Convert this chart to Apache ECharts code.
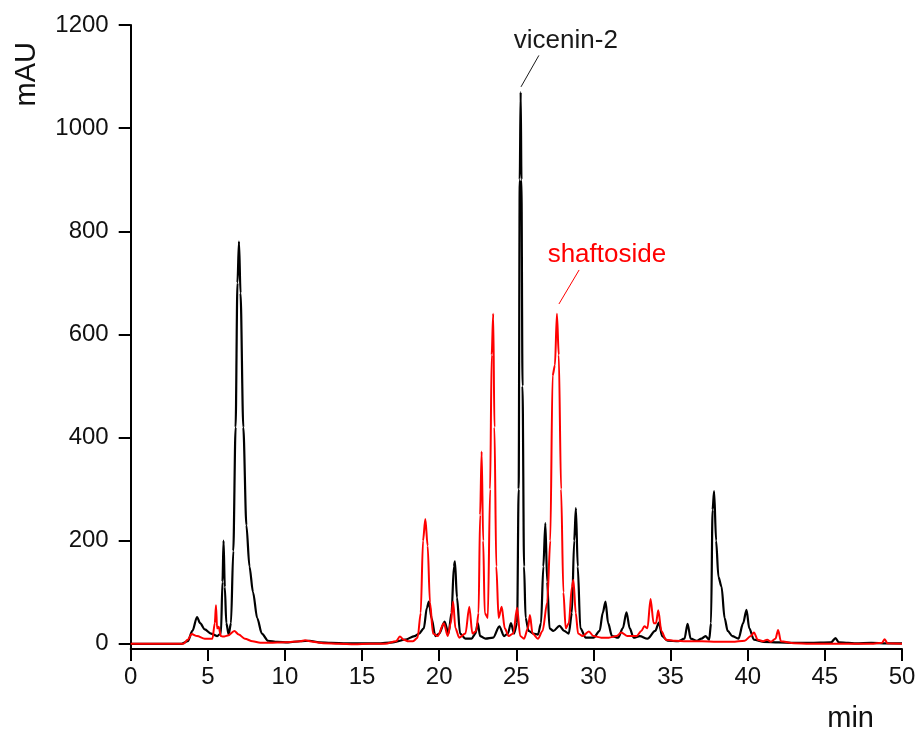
<!DOCTYPE html>
<html>
<head>
<meta charset="utf-8">
<script src="https://cdn.jsdelivr.net/npm/echarts@6/dist/echarts.min.js"></script>
<style>
html,body{margin:0;padding:0;background:#fff;}
#chart{width:919px;height:733px;}
</style>
</head>
<body>
<div id="chart"></div>
<script>
// Retention time (min) and absorbance (mAU) for the black trace
var blackTimes = [0,3.3,3.7,4.0,4.3,4.5,4.8,5.2,5.6,5.85,5.95,6.02,6.1,6.2,6.35,6.5,6.65,6.8,6.92,7.02,7.12,7.3,7.5,7.7,7.93,8.2,8.5,8.9,9.5,10.2,11,11.6,12.2,13,14,15,16,17,17.8,18.4,18.7,19.0,19.2,19.33,19.5,19.75,20.0,20.35,20.6,20.8,20.95,21.02,21.15,21.35,21.7,22.1,22.35,22.5,22.65,23.0,23.5,23.9,24.2,24.45,24.65,24.85,25.05,25.15,25.22,25.28,25.33,25.4,25.5,25.6,25.8,26.1,26.4,26.6,26.75,26.88,27.0,27.15,27.4,27.8,28.1,28.4,28.6,28.75,28.86,28.98,29.15,29.5,30.0,30.4,30.6,30.78,30.95,31.2,31.6,31.9,32.14,32.35,32.6,33.0,33.5,34.0,34.24,34.45,34.8,35.5,35.9,36.1,36.3,36.7,37.0,37.26,37.5,37.62,37.72,37.82,37.95,38.1,38.3,38.5,38.7,39.0,39.4,39.7,39.92,40.1,40.4,41,42,43,44,45.4,45.69,45.9,46.5,47,48,49,50];
var blackValues = [0,0,5,25,52,40,28,20,15,20,120,200,110,40,18,40,180,420,700,780,680,420,230,150,100,50,20,6,4,3,5,6,3,2,1,1,1,3,8,15,20,30,70,82,50,15,20,43,20,60,150,160,90,20,10,10,20,40,15,10,12,34,15,20,40,20,40,300,900,1070,900,500,150,50,25,20,18,40,150,234,120,30,25,35,25,20,60,200,263,150,30,12,12,25,60,82,40,15,12,30,61,30,12,15,10,25,41,15,6,5,10,39,10,6,10,15,8,40,260,296,200,130,111,50,25,15,10,40,66,30,8,4,3,2,2,3,11,3,2,1,2,1,1];

// Retention time (min) and absorbance (mAU) for the red trace
var redTimes = [0,3.4,3.7,3.95,4.3,4.8,5.3,5.45,5.53,5.6,5.7,5.85,6.0,6.3,6.72,7.0,7.4,7.9,8.4,9,10,11.0,11.3,11.8,12.5,13.5,14.5,15.5,16.5,17.2,17.45,17.7,18.0,18.3,18.6,18.8,18.95,19.1,19.25,19.4,19.6,19.9,20.3,20.55,20.75,20.9,21.05,21.3,21.7,21.95,22.15,22.4,22.55,22.65,22.75,22.85,22.95,23.15,23.3,23.4,23.5,23.58,23.7,23.85,24.05,24.25,24.5,24.8,25.05,25.25,25.5,25.75,25.88,26.05,26.4,26.7,27.0,27.2,27.35,27.5,27.63,27.75,27.9,28.05,28.2,28.4,28.6,28.7,28.85,29.0,29.3,29.7,30.0,30.5,31.0,31.5,31.8,32.2,32.8,33.1,33.3,33.5,33.7,33.9,34.05,34.2,34.4,34.7,35.3,36,37,38,39,39.8,40.2,40.4,40.65,41.0,41.26,41.5,41.8,41.97,42.15,43,44,45,46,47,48,48.7,48.88,49.05,50];
var redValues = [0,0,8,19,15,10,10,40,75,30,33,15,14,16,25,18,10,5,2,2,3,5,7,4,1,0,-1,0,0,5,14,8,5,5,12,60,200,242,190,80,20,15,40,15,40,82,30,12,20,72,20,25,60,250,373,200,60,50,300,560,640,420,150,50,72,30,15,20,70,15,10,30,56,20,10,25,80,200,520,540,640,560,300,100,30,40,110,124,60,20,15,24,15,12,12,15,22,15,15,25,34,30,87,40,40,65,25,8,6,5,5,4,4,6,15,22,8,5,8,4,10,27,5,1,0,0,0,0,0,2,9,1,0];

// Axis ticks
var xTicks = [0,5,10,15,20,25,30,35,40,45,50];
var yTicks = [0,200,400,600,800,1000,1200];

// Peak annotations: label, text position (t, mAU), leader start and end (t, mAU)
var peakNames = ['vicenin-2', 'shaftoside'];
var peakTextPos = [[28.21, 1170], [30.87, 754]];
var peakLeaderFrom = [[26.46, 1141], [29.07, 725]];
var peakLeaderTo = [[25.30, 1080], [27.76, 659]];
var peakColors = ['#1a1a1a', '#ff0000'];

function pairs(ts, vs) {
  var out = [];
  for (var i = 0; i < ts.length; i++) out.push([ts[i], vs[i]]);
  return out;
}

var font = 'Liberation Sans, Arial, sans-serif';

function annot(i) {
  return {
    silent: true,
    symbol: 'none',
    animation: false,
    lineStyle: { color: peakColors[i], width: 1, type: 'solid' },
    label: { show: false },
    data: [[{ coord: peakLeaderFrom[i] }, { coord: peakLeaderTo[i] }]]
  };
}
function annotText(i) {
  return {
    silent: true,
    symbol: 'circle',
    symbolSize: 0,
    animation: false,
    label: {
      show: true,
      position: 'inside',
      formatter: peakNames[i],
      color: peakColors[i],
      fontSize: 26,
      fontFamily: font
    },
    data: [{ coord: peakTextPos[i] }]
  };
}

var chart = echarts.init(document.getElementById('chart'), null, { renderer: 'canvas' });
chart.setOption({
  animation: false,
  backgroundColor: '#fff',
  grid: { left: 130.7, right: 17, top: 25, bottom: 84, containLabel: false },
  graphic: [{
    type: 'text',
    left: 12, top: 42,
    rotation: Math.PI / 2,
    style: { text: 'mAU', fontSize: 29, fill: '#111', font: '29px ' + font }
  }],
  xAxis: {
    type: 'value',
    min: 0, max: 50, interval: 5,
    axisLine: { show: true, onZero: false, lineStyle: { color: '#000', width: 2 } },
    axisTick: { show: true, inside: false, length: 12, lineStyle: { color: '#000', width: 2 } },
    axisLabel: { show: true, margin: 16, fontSize: 24, color: '#111', fontFamily: font,
      customValues: xTicks, formatter: function (v) { return String(v); } },
    splitLine: { show: false },
    name: 'min',
    nameLocation: 'end',
    nameGap: 0,
    nameTextStyle: { fontSize: 29, color: '#111', fontFamily: font, align: 'right', verticalAlign: 'top', padding: [55, 28, 0, 0] }
  },
  yAxis: {
    type: 'value',
    min: -10, max: 1200,
    axisLine: { show: true, onZero: false, lineStyle: { color: '#000', width: 2 } },
    axisTick: { show: true, inside: false, length: 12, lineStyle: { color: '#000', width: 2 }, customValues: yTicks },
    axisLabel: { show: true, margin: 22, fontSize: 24, color: '#111', fontFamily: font, customValues: yTicks,
      formatter: function (v) { return String(v); } },
    splitLine: { show: false }
  },
  series: [
    {
      name: 'black', type: 'line', data: pairs(blackTimes, blackValues),
      showSymbol: false, smooth: 0.3, smoothMonotone: 'x',
      lineStyle: { color: '#000', width: 2.2 }, z: 2,
      markLine: annot(0), markPoint: annotText(0)
    },
    {
      name: 'red', type: 'line', data: pairs(redTimes, redValues),
      showSymbol: false, smooth: 0.3, smoothMonotone: 'x',
      lineStyle: { color: '#ff0000', width: 2 }, z: 3,
      markLine: annot(1), markPoint: annotText(1)
    }
  ]
});
</script>
</body>
</html>
